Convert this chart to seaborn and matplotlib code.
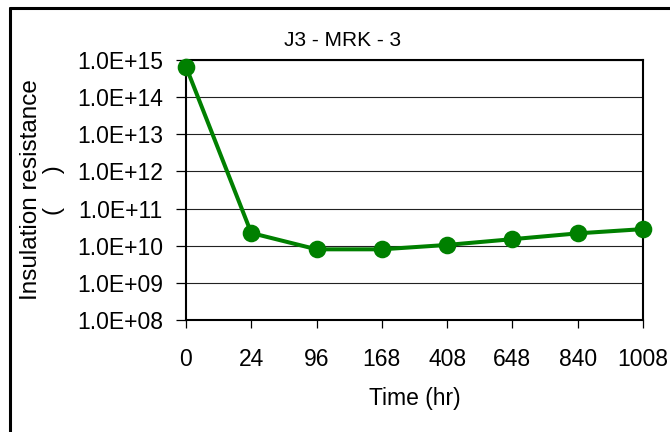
import matplotlib
matplotlib.use("Agg")
import matplotlib.pyplot as plt
from matplotlib.lines import Line2D
from matplotlib.ticker import FuncFormatter, FixedLocator, NullLocator
import seaborn as sns
import pandas as pd

# ---- data ----
times = ["0", "24", "96", "168", "408", "648", "840", "1008"]
resistance = [6.6e14, 2.2e10, 8.0e9, 8.0e9, 1.05e10, 1.5e10, 2.15e10, 2.8e10]
ytick_values = [1e8, 1e9, 1e10, 1e11, 1e12, 1e13, 1e14, 1e15]
title_text = "J3 - MRK - 3"
xlabel_text = "Time (hr)"
ylabel_text = "Insulation resistance\n(     )"

df = pd.DataFrame({"time": times, "ir": resistance})

sns.set_theme(style="white")
plt.rcParams["font.family"] = ["Liberation Sans", "DejaVu Sans"]

fig = plt.figure(figsize=(6.7, 4.32), dpi=100)
ax = fig.add_axes([186 / 670, 1 - 320 / 432, (643 - 186) / 670, (320 - 60) / 432])
ax.set_yscale("log")

sns.pointplot(data=df, x="time", y="ir", order=times, color="#008000",
              errorbar=None, markers="o", markersize=10.5, linewidth=2.9,
              ax=ax, zorder=5, clip_on=False)

ax.set_xlim(0, len(times) - 1)
ax.set_ylim(1e8, 1e15)
ax.yaxis.set_major_locator(FixedLocator(ytick_values))
ax.yaxis.set_minor_locator(NullLocator())
ax.yaxis.set_major_formatter(FuncFormatter(lambda v, p: f"{v:.1E}"))
ax.set_xticks(range(len(times)))
ax.set_xticklabels(times)

ax.grid(False)
ax.yaxis.grid(True, color="#222222", linewidth=0.8)
ax.set_axisbelow(True)
for s in ax.spines.values():
    s.set_visible(True)
    s.set_color("black")
    s.set_linewidth(1.5)

ax.tick_params(axis="y", which="major", direction="out", length=7.2, width=0.9,
               color="black", pad=9.5, labelsize=16.5, labelcolor="black", left=True)
ax.tick_params(axis="x", which="major", direction="out", length=5.8, width=0.9,
               color="black", pad=14, labelsize=16.5, labelcolor="black", bottom=True)

ax.set_title(title_text, fontsize=15, color="black", pad=10, x=(343 - 186) / 457)
ax.set_xlabel(xlabel_text, fontsize=16.5, color="black")
ax.xaxis.set_label_coords(0.5, -0.30)
ax.xaxis.label.set_va("center")
ax.set_ylabel(ylabel_text, fontsize=17.5, color="black", multialignment="center",
              linespacing=1.1)
ax.yaxis.set_label_coords((42.5 - 186) / 457, 0.5)
ax.yaxis.label.set_va("center")

# outer frame (left and top edges visible)
fig.add_artist(Line2D([10 / 670, 10 / 670], [1 - 8 / 432, -0.05], transform=fig.transFigure,
                      color="black", linewidth=2.2))
fig.add_artist(Line2D([10 / 670, 1.05], [1 - 8 / 432, 1 - 8 / 432], transform=fig.transFigure,
                      color="black", linewidth=2.2))

fig.savefig("out.png", dpi=100, facecolor="white")
